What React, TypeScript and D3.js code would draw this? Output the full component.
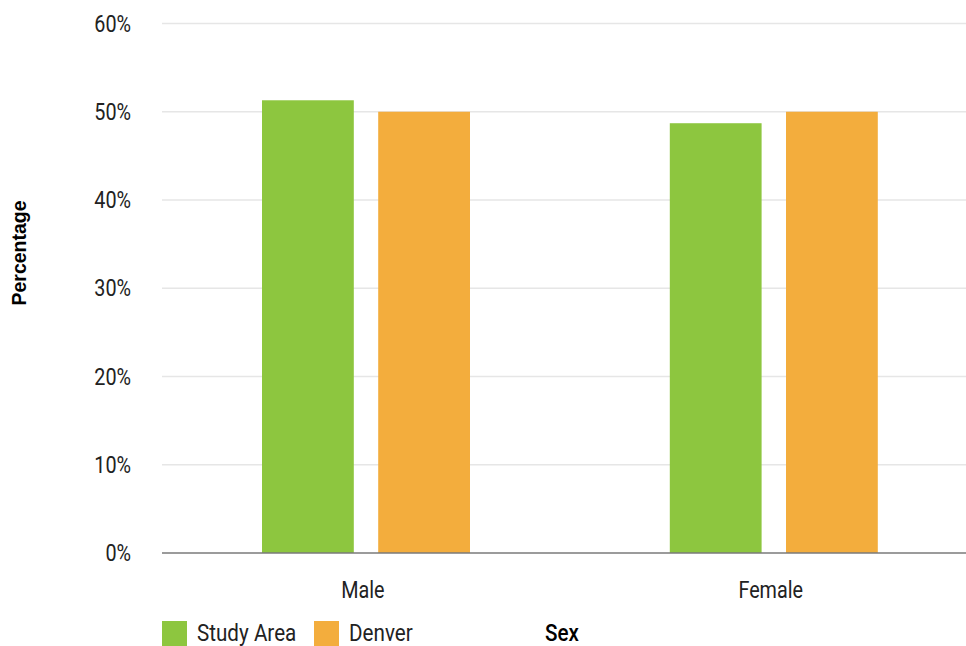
import React from "react";
import * as d3 from "d3";

const categories = ["Male", "Female"];
const seriesNames = ["Study Area", "Denver"];
const studyArea = [51.3, 48.7];
const denver = [50.0, 50.0];
const yTicks = [0, 10, 20, 30, 40, 50, 60];
const colors = ["#8DC63F", "#F3AD3D"];
const xTitle = "Sex";
const yTitle = "Percentage";

const W = 966;
const H = 646;
const FONT = "Roboto, 'Noto Sans', sans-serif";
const SX = 0.86;

function NText(props: {
  x: number;
  y: number;
  size: number;
  anchor?: string;
  fill?: string;
  weight?: number | string;
  children: React.ReactNode;
}) {
  return (
    <text
      transform={`translate(${props.x},${props.y}) scale(${SX},1)`}
      textAnchor={props.anchor || "start"}
      fontFamily={FONT}
      fontSize={props.size}
      fontWeight={props.weight || 400}
      fill={props.fill || "#222"}
    >
      {props.children}
    </text>
  );
}

export default function App() {
  const left = 162;
  const top = 23.5;
  const bottom = 553;
  const y = d3.scaleLinear().domain([0, 60]).range([bottom, top]);
  const x0 = d3.scaleBand().domain(categories).range([left, 977.6]);
  const x1 = d3.scaleBand().domain(seriesNames).range([100, 308]).paddingInner(0.21);
  const series = [studyArea, denver];

  return (
    <svg width={W} height={H} style={{ position: "absolute", left: 0, top: 0, background: "#fff" }}>
      {yTicks.map((t) => (
        <g key={t}>
          {t !== 0 && (
            <line x1={left} x2={W} y1={y(t)} y2={y(t)} stroke="#e6e6e6" strokeWidth={1.5} />
          )}
          <NText x={131} y={y(t) + 8} size={23} anchor="end">
            {t}%
          </NText>
        </g>
      ))}
      {categories.map((c, i) => (
        <g key={c}>
          {seriesNames.map((s, j) => (
            <rect
              key={s}
              x={(x0(c) as number) + (x1(s) as number)}
              y={y(series[j][i])}
              width={x1.bandwidth()}
              height={bottom - y(series[j][i])}
              fill={colors[j]}
            />
          ))}
          <NText x={(x0(c) as number) + x0.bandwidth() / 2 - 3} y={598} size={23} anchor="middle">
            {c}
          </NText>
        </g>
      ))}
      <line x1={left} x2={W} y1={bottom} y2={bottom} stroke="#7a7a7a" strokeWidth={1.5} />
      <text
        transform={`translate(26,253) rotate(-90)`}
        textAnchor="middle"
        fontFamily="'Liberation Sans', Arial, sans-serif"
        fontWeight="bold"
        fontSize={19.5}
        fill="#000"
      >
        {yTitle}
      </text>
      {seriesNames.map((s, j) => {
        const lx = [162, 314][j];
        return (
          <g key={s}>
            <rect x={lx} y={621} width={25} height={25} fill={colors[j]} />
            <NText x={lx + 35} y={641} size={24}>
              {s}
            </NText>
          </g>
        );
      })}
      <NText x={545} y={641} size={24} fill="#000" weight={500}>
        {xTitle}
      </NText>
    </svg>
  );
}
